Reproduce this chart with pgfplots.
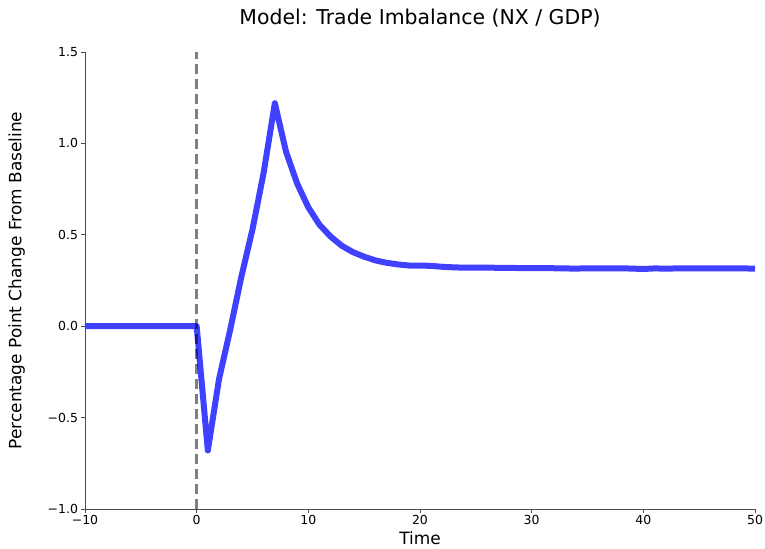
\documentclass[border=0pt]{standalone}
\usepackage{pgfplots}
\pgfplotsset{compat=1.18}
\usepackage{fontspec}
\setmainfont{DejaVu Sans}
\definecolor{lineblue}{RGB}{64,64,255}
\begin{document}
\begin{tikzpicture}
\begin{axis}[
  scale only axis,
  width=670bp, height=457bp,
  xmin=-10, xmax=50, ymin=-1, ymax=1.5,
  axis lines*=left,
  axis line style={black!70, line width=0.9pt},
  xtick={-10,0,10,20,30,40,50},
  xticklabels={−10,0,10,20,30,40,50},
  ytick={-1,-0.5,0,0.5,1,1.5},
  yticklabels={−1.0,−0.5,0.0,0.5,1.0,1.5},
  tick align=outside,
  major tick length=3.5bp,
  tick style={black!70, line width=0.9pt},
  ticklabel style={font=\fontsize{12.5}{14}\selectfont},
  xticklabel style={yshift=1bp},
  xlabel={Time},
  ylabel={Percentage Point Change From Baseline},
  label style={font=\fontsize{17}{20}\selectfont},
  xlabel style={yshift=0bp},
  ylabel style={yshift=16bp},
  title={Model: Trade Imbalance (NX / GDP)},
  title style={font=\fontsize{20.5}{24}\selectfont, yshift=15bp},
  clip=false,
]
\addplot[lineblue, line width=6bp, line join=round, line cap=butt] coordinates {
(-10,0) (-9,0) (-8,0) (-7,0) (-6,0) (-5,0) (-4,0) (-3,0) (-2,0) (-1,0) (0,0)
(1,-0.68) (2,-0.29) (3,-0.02) (4,0.27) (5,0.53) (6,0.84) (7,1.22) (8,0.955)
(9,0.78) (10,0.65) (11,0.555) (12,0.49) (13,0.44) (14,0.405) (15,0.38)
(16,0.36) (17,0.347) (18,0.338) (19,0.332) (20,0.332) (21,0.33) (22,0.325)
(23,0.322) (24,0.32) (25,0.321) (26,0.321) (27,0.319) (28,0.319) (29,0.318)
(30,0.317) (31,0.318) (32,0.317) (33,0.316) (34,0.315) (35,0.317) (36,0.316)
(37,0.316) (38,0.317) (39,0.315) (40,0.313) (41,0.316) (42,0.315) (43,0.316)
(44,0.316) (45,0.316) (46,0.316) (47,0.316) (48,0.316) (49,0.316) (50,0.315)
};
\addplot[black, opacity=0.5, line width=3.2bp, dash pattern=on 10bp off 5bp] coordinates {(0,-1) (0,1.5)};
\end{axis}
\pgfresetboundingbox
\path[use as bounding box] ([shift={(-85bp,-40bp)}]current axis.south west) rectangle ([shift={(10bp,52bp)}]current axis.north east);
\end{tikzpicture}
\end{document}
